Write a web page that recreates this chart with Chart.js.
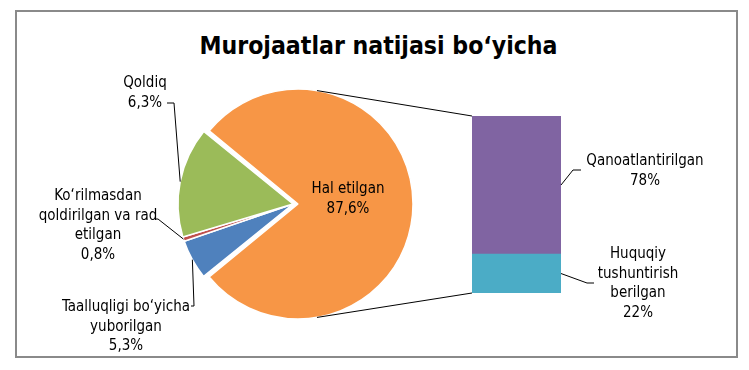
<!DOCTYPE html>
<html>
<head>
<meta charset="utf-8">
<script src="https://cdn.jsdelivr.net/npm/chart.js@4.4.1/dist/chart.umd.min.js"></script>
<style>
  html, body { margin: 0; padding: 0; background: #fff; }
  #wrap { position: relative; width: 749px; height: 370px; overflow: hidden; }
  #frame { position: absolute; left: 15px; top: 10px; width: 719px; height: 344px; border: 2px solid #8a8a8a; }
  #title { position: absolute; left: 0; top: 31px; width: 757px; text-align: center;
           font: bold 24.6px 'Liberation Sans Narrow', 'DejaVu Sans Condensed', sans-serif; line-height: 30px; color: #000; }
  canvas { position: absolute; left: 0; top: 0; }
</style>
</head>
<body>
<div id="wrap">
  <div id="frame"></div>
  <div id="title">Murojaatlar natijasi bo‘yicha</div>
  <canvas id="pie" width="749" height="370"></canvas>
  <canvas id="bar" width="749" height="370"></canvas>
</div>
<script>
// pie slices, clockwise starting from "Hal etilgan"
const pieNames = [
  ['Hal etilgan'],
  ['Taalluqligi bo‘yicha', 'yuborilgan'],
  ['Ko‘rilmasdan', 'qoldirilgan va rad', 'etilgan'],
  ['Qoldiq']
];
const pieShares = [78.3, 5.6, 0.6, 15.5];   // slice sizes as they are drawn
const pieLabels = ['87,6%', '5,3%', '0,8%', '6,3%'];
const pieColors = ['#F79646', '#4F81BD', '#C0504D', '#9BBB59'];

// stacked bar, bottom segment first
const barNames = [['Huquqiy', 'tushuntirish', 'berilgan'], ['Qanoatlantirilgan']];
const barValues = [22, 78];
const barLabels = ['22%', '78%'];
const barColors = ['#4BACC6', '#8064A2'];

const FONT = "15px 'Liberation Sans Narrow', 'DejaVu Sans Condensed', sans-serif";
const LINE_H = 19.7;
const SLICE_OFFSET = [20, 0, 0, 0];   // chart.js moves the arc by a quarter of this

Chart.defaults.font.family = "'Liberation Sans Narrow', 'DejaVu Sans Condensed', sans-serif";

// chart.js also grows an offset arc by offset/4; take that back so all slices keep one radius
const keepRadius = {
  id: 'keepRadius',
  afterUpdate(chart) {
    chart.getDatasetMeta(0).data.forEach((arc, i) => {
      arc.outerRadius -= SLICE_OFFSET[i] / 4;
    });
  }
};

const pieChart = new Chart(document.getElementById('pie'), {
  type: 'pie',
  data: {
    labels: pieNames.map(n => n.join(' ')),
    datasets: [{
      data: pieShares,
      backgroundColor: pieColors,
      borderColor: '#fff',
      borderWidth: 1.5,
      offset: SLICE_OFFSET,
      radius: 115
    }]
  },
  options: {
    responsive: false,
    animation: false,
    events: [],
    rotation: -50.9,
    layout: { padding: { left: 145, right: 308, top: 89, bottom: 51 } },
    plugins: { legend: { display: false }, tooltip: { enabled: false }, title: { display: false } }
  },
  plugins: [keepRadius]
});

// where each pie label goes (text centre, first line y) and its leader elbow
const pieCallouts = [
  { x: 348, y: 189 },
  { x: 126, y: 307, elbow: [[194, 306], [191, 306]] },
  { x: 98,  y: 196, elbow: [[158, 219], [155, 219]] },
  { x: 145, y: 83,  elbow: [[174, 103], [167, 103]] }
];
const barCallouts = [
  { x: 638, y: 254, elbow: [[587, 283], [594, 283]] },
  { x: 645, y: 161, elbow: [[573, 170], [581, 170]] }
];

function drawLines(ctx, x, y, lines) {
  lines.forEach((t, i) => ctx.fillText(t, x, y + i * LINE_H));
}

function leader(ctx, start, elbow) {
  ctx.beginPath();
  ctx.moveTo(start[0], start[1]);
  elbow.forEach(p => ctx.lineTo(p[0], p[1]));
  ctx.stroke();
}

const calloutPlugin = {
  id: 'callouts',
  afterDraw(chart) {
    const ctx = chart.ctx;
    const arcs = pieChart.getDatasetMeta(0).data.map((a, i) => {
      const p = a.getProps(['x', 'y', 'startAngle', 'endAngle', 'outerRadius'], true);
      const mid = (p.startAngle + p.endAngle) / 2;
      const shift = SLICE_OFFSET[i] / 4;
      return { cx: p.x + Math.cos(mid) * shift, cy: p.y + Math.sin(mid) * shift, r: p.outerRadius + shift, mid };
    });
    const bars = chart.data.datasets.map((d, i) => chart.getDatasetMeta(i).data[0].getProps(['x', 'y', 'base', 'width'], true));

    ctx.save();
    ctx.strokeStyle = '#000';
    ctx.lineWidth = 1;

    // connector lines from the split slice to the bar
    const big = arcs[0];
    const a = 80.5 * Math.PI / 180;
    const left = bars[0].x - bars[0].width / 2;
    ctx.beginPath();
    ctx.moveTo(big.cx + big.r * Math.cos(-a), big.cy + big.r * Math.sin(-a));
    ctx.lineTo(left, bars[1].y);
    ctx.moveTo(big.cx + big.r * Math.cos(a), big.cy + big.r * Math.sin(a));
    ctx.lineTo(left, bars[0].base);
    ctx.stroke();

    ctx.fillStyle = '#000';
    ctx.font = FONT;
    ctx.textAlign = 'center';
    ctx.textBaseline = 'middle';

    pieCallouts.forEach((c, i) => {
      drawLines(ctx, c.x, c.y, pieNames[i].concat([pieLabels[i]]));
      if (c.elbow) {
        const s = arcs[i];
        leader(ctx, [s.cx + s.r * Math.cos(s.mid), s.cy + s.r * Math.sin(s.mid)], c.elbow);
      }
    });

    barCallouts.forEach((c, i) => {
      const b = bars[i];
      drawLines(ctx, c.x, c.y, barNames[i].concat([barLabels[i]]));
      leader(ctx, [b.x + b.width / 2, (b.y + b.base) / 2], c.elbow);
    });
    ctx.restore();
  }
};

new Chart(document.getElementById('bar'), {
  type: 'bar',
  data: {
    labels: [''],
    datasets: barValues.map((v, i) => ({
      label: barNames[i].join(' '),
      data: [v],
      backgroundColor: barColors[i],
      borderWidth: 0,
      barPercentage: 1,
      categoryPercentage: 1
    }))
  },
  options: {
    responsive: false,
    animation: false,
    events: [],
    layout: { padding: { left: 472, right: 188, top: 116, bottom: 77 } },
    scales: {
      x: { stacked: true, display: false },
      y: { stacked: true, display: false, min: 0, max: 100 }
    },
    plugins: { legend: { display: false }, tooltip: { enabled: false } }
  },
  plugins: [calloutPlugin]
});
</script>
</body>
</html>
